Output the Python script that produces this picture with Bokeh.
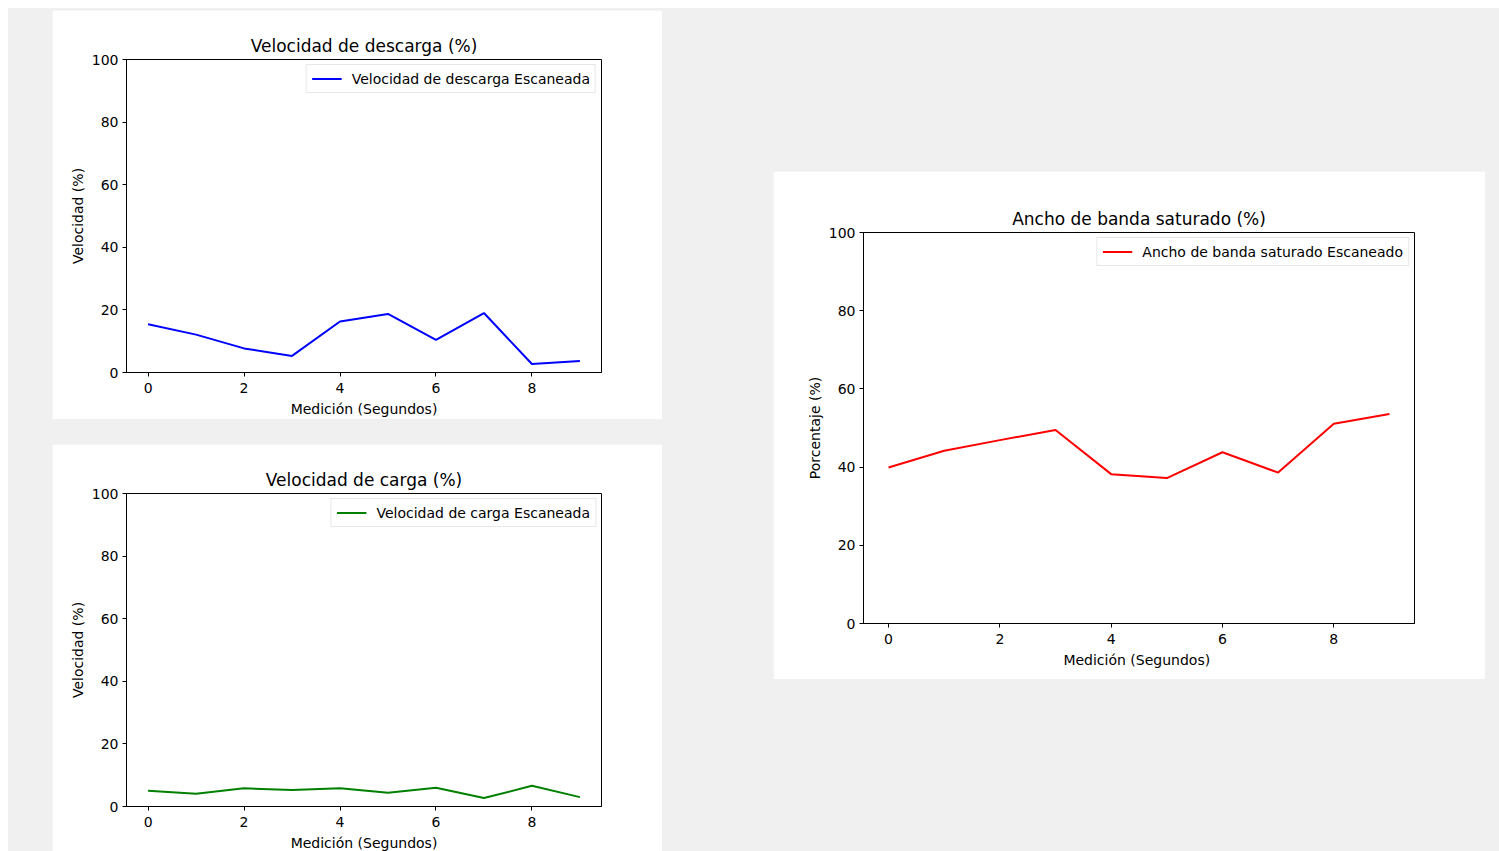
from bokeh.plotting import figure
from bokeh.models import Legend, LegendItem, Row, Column, FixedTicker
from bokeh.embed import file_html
from bokeh.resources import INLINE

# Mediciones por segundo
segundos = [0, 1, 2, 3, 4, 5, 6, 7, 8, 9]
descarga = [15.4, 12.1, 7.7, 5.3, 16.3, 18.7, 10.4, 19.0, 2.7, 3.7]
carga = [5.0, 4.1, 5.8, 5.3, 5.8, 4.4, 6.0, 2.7, 6.6, 3.0]
ancho_banda = [39.9, 44.2, 46.9, 49.5, 38.2, 37.2, 43.8, 38.6, 51.1, 53.6]

x_ticks = [0, 2, 4, 6, 8]
y_ticks = [0, 20, 40, 60, 80, 100]

FONT = "DejaVu Sans"


def panel(title, xlabel, ylabel, xs, ys, color, legend_label,
          size, left, right, top, bottom, margin, fixed_frame):
    w, h = size
    if fixed_frame:
        sizing = dict(frame_width=w, frame_height=h)
    else:
        sizing = dict(width=w, height=h)
    p = figure(x_range=(-0.45, 9.45), y_range=(0, 100),
               output_backend="svg", toolbar_location=None,
               min_border_left=left, min_border_right=right,
               min_border_top=top, min_border_bottom=bottom,
               background_fill_color="white", border_fill_color="white",
               **sizing)
    p.margin = margin
    p.title.text = title
    p.title.align = "center"
    p.title.text_font = FONT
    p.title.text_font_size = "17px"
    p.title.text_font_style = "normal"
    p.title.text_color = "black"
    p.title.standoff = 8

    p.xgrid.visible = False
    p.ygrid.visible = False
    p.outline_line_color = "black"
    p.outline_line_alpha = 1
    p.outline_line_width = 1

    p.xaxis.ticker = FixedTicker(ticks=x_ticks)
    p.yaxis.ticker = FixedTicker(ticks=y_ticks)
    for ax in (p.xaxis[0], p.yaxis[0]):
        ax.axis_line_color = "black"
        ax.major_tick_line_color = "black"
        ax.major_tick_out = 4
        ax.major_tick_in = 0
        ax.minor_tick_line_color = None
        ax.major_label_text_font = FONT
        ax.major_label_text_font_size = "14px"
        ax.major_label_text_color = "black"
        ax.axis_label_text_font = FONT
        ax.axis_label_text_font_size = "14px"
        ax.axis_label_text_font_style = "normal"
        ax.axis_label_text_color = "black"
    p.xaxis.major_label_standoff = 6
    p.xaxis.axis_label_standoff = 5
    p.yaxis.major_label_standoff = 4
    p.yaxis.axis_label_standoff = 3
    p.xaxis.axis_label = xlabel
    p.yaxis.axis_label = ylabel

    r = p.line(xs, ys, line_color=color, line_width=2)
    legend = Legend(items=[LegendItem(label=legend_label, renderers=[r])],
                    location="top_right", margin=5, padding=5,
                    spacing=0, label_text_font=FONT, label_text_font_size="14px",
                    label_text_color="black", glyph_width=30, glyph_height=17,
                    label_height=17, label_standoff=10,
                    border_line_color="#d0d0d0", border_line_width=1,
                    background_fill_color="white", background_fill_alpha=0.8)
    p.add_layout(legend, "center")
    return p


p1 = panel("Velocidad de descarga (%)", "Medición (Segundos)", "Velocidad (%)",
           segundos, descarga, "blue", "Velocidad de descarga Escaneada",
           (475, 313), 74, 61, 49, 44, (0, 0, 0, 0), True)
p2 = panel("Velocidad de carga (%)", "Medición (Segundos)", "Velocidad (%)",
           segundos, carga, "green", "Velocidad de carga Escaneada",
           (475, 313), 74, 61, 49, 44, (0, 0, 0, 0), True)
p3 = panel("Ancho de banda saturado (%)", "Medición  (Segundos)", "Porcentaje (%)",
           segundos, ancho_banda, "red", "Ancho de banda saturado Escaneado",
           (712, 508), 90, 71, 61, 56, (163, 0, 0, 111), False)

left_col = Column(children=[p1, p2], spacing=25, margin=(2, 0, 0, 44))
root = Row(children=[left_col, p3], width=1491, height=843, margin=(8, 0, 0, 8),
           styles={"background-color": "#f0f0f0"})

open("out.html", "w").write(file_html(root, INLINE))
